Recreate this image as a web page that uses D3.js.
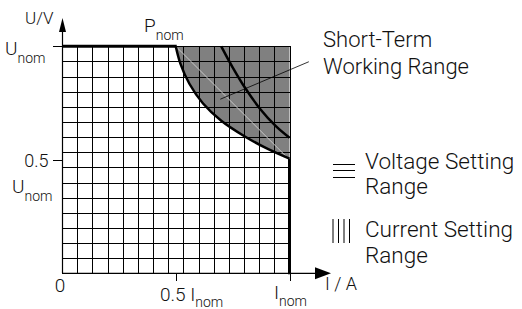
<!DOCTYPE html>
<html>
<head>
<meta charset="utf-8">
<title>Short-Term Working Range</title>
<style>
    html, body { margin: 0; padding: 0; background: #fff; }
    svg { display: block; }
    text { font-family: Roboto, "Liberation Sans", sans-serif; font-weight: 300; fill: #111; }
    .grid line { stroke: #000; stroke-width: 1; shape-rendering: crispEdges; }
    .tick line { stroke: #000; stroke-width: 1; shape-rendering: crispEdges; }
</style>
<script src="https://cdn.jsdelivr.net/npm/d3@7"></script>
</head>
<body>
<svg id="chart"></svg>
<script>
// normalised units: I / Inom and U / Unom
const gridSteps = 15;
// Pnom limit curve
const pnomI = [0.50, 0.52, 0.56, 0.62, 0.70, 0.80, 0.90, 1.00];
const pnomU = [1.00, 0.925, 0.835, 0.748, 0.672, 0.605, 0.55, 0.505];
// short-term limit curve
const shortI = [0.70, 0.75, 0.806, 0.872, 0.94, 1.00];
const shortU = [1.00, 0.9075, 0.815, 0.723, 0.648, 0.597];
const yTicks = [0.5, 1];
const xTicks = [0.5, 1];

const width = 522, height = 309;
const svg = d3.select("#chart").attr("width", width).attr("height", height);

const x = d3.scaleLinear().domain([0, 1]).range([62, 289.5]);
const y = d3.scaleLinear().domain([0, 1]).range([273.3, 46.3]);

const pnom = pnomI.map((d, i) => [d, pnomU[i]]);
const shortCurve = shortI.map((d, i) => [d, shortU[i]]);
const line = d3.line().x(d => x(d[0])).y(d => y(d[1])).curve(d3.curveCatmullRom.alpha(0.5));

// shaded short-term area
svg.append("path")
    .attr("d", d3.line().x(d => x(d[0])).y(d => y(d[1]))([[0.5, 1], [1, 1], [1, 0.505]]) +
        line(pnom.slice().reverse()).replace(/^M/, "L") + "Z")
    .attr("fill", "#808080");

// grid
const steps = d3.range(gridSteps + 1).map(k => k / gridSteps);
const grid = svg.append("g").attr("class", "grid");
grid.selectAll(".v").data(steps).enter().append("line")
    .attr("x1", d => Math.round(x(d)) + 0.5).attr("x2", d => Math.round(x(d)) + 0.5)
    .attr("y1", y(0)).attr("y2", y(1));
grid.selectAll(".h").data(steps).enter().append("line")
    .attr("x1", x(0)).attr("x2", x(1))
    .attr("y1", d => Math.round(y(d)) + 0.5).attr("y2", d => Math.round(y(d)) + 0.5);

// faint chord
svg.append("line")
    .attr("x1", x(0.5)).attr("y1", y(1)).attr("x2", x(1)).attr("y2", y(0.5))
    .attr("stroke", "#c8c8c8").attr("stroke-width", 1);

// limit lines
svg.append("path").attr("d", line(pnom)).attr("fill", "none")
    .attr("stroke", "#000").attr("stroke-width", 2.5);
svg.append("path").attr("d", line(shortCurve)).attr("fill", "none")
    .attr("stroke", "#000").attr("stroke-width", 2.5);
svg.append("line").attr("x1", x(0)).attr("x2", x(0.5) + 1).attr("y1", y(1)).attr("y2", y(1))
    .attr("stroke", "#000").attr("stroke-width", 3);
svg.append("line").attr("x1", x(1)).attr("x2", x(1)).attr("y1", y(0.505)).attr("y2", y(0) + 1)
    .attr("stroke", "#000").attr("stroke-width", 3);

// leader line
svg.append("line")
    .attr("x1", x(0.696)).attr("y1", y(0.767)).attr("x2", x(1.085)).attr("y2", y(0.932))
    .attr("stroke", "#000").attr("stroke-width", 0.8);

// axes
svg.append("line").attr("x1", x(0) + 0.5).attr("x2", x(0) + 0.5).attr("y1", y(0)).attr("y2", 28)
    .attr("stroke", "#000").attr("stroke-width", 1.2);
svg.append("path").attr("d", `M${x(0) + 0.5},18 L${x(0) - 3},32 L${x(0) + 4},32 Z`).attr("fill", "#000");
svg.append("line").attr("x1", x(0)).attr("x2", 320).attr("y1", y(0)).attr("y2", y(0))
    .attr("stroke", "#000").attr("stroke-width", 1.2);
svg.append("path").attr("d", `M331,${y(0)} L315,${y(0) - 6} L315,${y(0) + 6} Z`).attr("fill", "#000");

svg.append("g").attr("transform", `translate(${x(0) + 0.5},0)`)
    .call(d3.axisLeft(y).tickValues(yTicks).tickSize(10).tickFormat(""))
    .call(g => g.select(".domain").remove());
svg.append("g").attr("transform", `translate(0,${y(0)})`)
    .call(d3.axisBottom(x).tickValues(xTicks).tickSize(8).tickFormat(""))
    .call(g => g.select(".domain").remove());

// labels with subscript
function label(px, py, main, sub, size, subSize, anchor, subDy) {
    const t = svg.append("text").attr("x", px).attr("y", py)
        .attr("font-size", size).attr("text-anchor", anchor || "start");
    t.append("tspan").text(main);
    if (sub) t.append("tspan").attr("dy", subDy || 8).attr("font-size", subSize).text(sub);
    return t;
}
label(25, 24, "U/V", null, 17);
label(5, 55, "U", "nom", 19, 14);
label(48.5, 167, "0.5", null, 18, 0, "end");
label(12, 193, "U", "nom", 19, 14);
label(144, 32, "P", "nom", 19, 14);
label(60, 292, "0", null, 19, 0, "middle");
label(160, 300.5, "0.5 I", "nom", 19, 14, "start", 6.5);
label(274, 299, "I", "nom", 19, 14, "start", 7);
label(325, 290, "I / A", null, 18);

// short-term label
label(323, 46.5, "Short-Term", null, 22);
label(323, 73.5, "Working Range", null, 22);

// legend
const legendH = [164.5, 170.5, 177.5];
svg.selectAll(".lh").data(legendH).enter().append("line")
    .attr("x1", 333).attr("x2", 355).attr("y1", d => d).attr("y2", d => d)
    .attr("stroke", "#000").attr("stroke-width", 1);
const legendV = [333, 338.5, 344, 349.5];
svg.selectAll(".lv").data(legendV).enter().append("line")
    .attr("x1", d => d).attr("x2", d => d).attr("y1", 219).attr("y2", 243)
    .attr("stroke", "#000").attr("stroke-width", 1);
label(365, 169, "Voltage Setting", null, 22.5);
label(365, 194, "Range", null, 22.5);
label(365, 237, "Current Setting", null, 22.5);
label(365, 263, "Range", null, 22.5);
</script>
</body>
</html>
